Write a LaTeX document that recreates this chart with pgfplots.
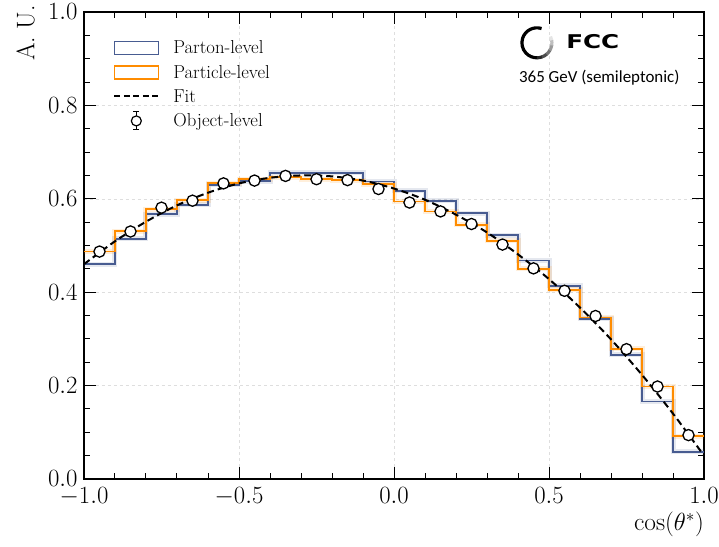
\documentclass[border=0pt]{standalone}
\usepackage{pgfplots}
\pgfplotsset{compat=1.18}
\usepackage{fontspec}
\newfontfamily\logofont{Carlito}
\newfontfamily\fccfont{DejaVu Sans}
\definecolor{partonC}{RGB}{72,92,145}
\definecolor{particleC}{RGB}{255,140,0}
\pgfplotsset{
  histleg/.style={legend image code/.code={\draw[##1,fill=white] (0bp,-6.5bp) rectangle (44bp,6.5bp);}},
  fitleg/.style={legend image code/.code={\draw[##1] (0bp,0bp) -- (44bp,0bp);}},
  objleg/.style={legend image code/.code={
     \draw[black,line width=1bp] (22bp,-9bp) -- (22bp,9bp);
     \draw[black,line width=1bp] (19bp,9bp) -- (25bp,9bp) (19bp,-9bp) -- (25bp,-9bp);
     \draw[black,fill=white,line width=1.2bp] (22bp,0bp) circle (5bp);}},
}
\begin{document}
\begin{tikzpicture}
\begin{axis}[
  name=ax,
  width=620bp, height=467bp, scale only axis,
  xmin=-1, xmax=1, ymin=0, ymax=1,
  xtick={-1,-0.5,0,0.5,1},
  ytick={0,0.2,0.4,0.6,0.8,1.0},
  minor x tick num=4, minor y tick num=3,
  tick align=inside, tick pos=both,
  major tick length=12bp, minor tick length=6bp,
  every tick/.style={black, line width=1bp},
  axis line style={line width=1.5bp},
  grid=major,
  major grid style={dash pattern=on 3bp off 3bp, black!13, line width=0.5bp},
  ticklabel style={font=\fontsize{25.5}{25.5}\selectfont},
  xticklabel style={yshift=-5bp, /pgf/number format/.cd, fixed, fixed zerofill, precision=1},
  yticklabel style={xshift=-3bp, /pgf/number format/.cd, fixed, fixed zerofill, precision=1},
  xlabel={$\cos(\theta^{*})$},
  ylabel={A.\ U.},
  label style={font=\fontsize{25.5}{25.5}\selectfont},
  xlabel style={at={([yshift=-33bp]rel axis cs:1,0)}, anchor=north east, inner sep=0pt},
  ylabel style={at={([xshift=-49bp,yshift=7bp]rel axis cs:0,1)}, anchor=south east, inner sep=0pt},
  legend cell align=left,
  legend style={at={(rel axis cs:0.047,0.943)}, anchor=north west, draw=none, fill=none,
    font=\fontsize{18.8}{19}\selectfont, row sep=5.8bp, inner sep=0pt,
    /tikz/every odd column/.append style={column sep=12bp}},
]
\addlegendimage{histleg, draw=partonC, line width=1.5bp}
\addlegendentry{Parton-level}
\addlegendimage{histleg, draw=particleC, line width=1.5bp}
\addlegendentry{Particle-level}
\addlegendimage{fitleg, black, line width=2bp, dash pattern=on 6bp off 3.5bp}
\addlegendentry{Fit}
\addlegendimage{objleg}
\addlegendentry{Object-level}

% parton-level band + line
\addplot[const plot, partonC, opacity=0.14, line width=5bp, forget plot] coordinates {
(-1.0,0.460) (-0.9,0.514) (-0.8,0.567) (-0.7,0.587) (-0.6,0.630) (-0.5,0.638) (-0.4,0.656) (-0.3,0.656) (-0.2,0.656) (-0.1,0.637)
(0.0,0.617) (0.1,0.596) (0.2,0.569) (0.3,0.522) (0.4,0.468) (0.5,0.414) (0.6,0.343) (0.7,0.266) (0.8,0.166) (0.9,0.058) (1.0,0.058)};
\addplot[const plot, particleC, opacity=0.14, line width=5bp, forget plot] coordinates {
(-1.0,0.487) (-0.9,0.531) (-0.8,0.578) (-0.7,0.597) (-0.6,0.633) (-0.5,0.642) (-0.4,0.646) (-0.3,0.642) (-0.2,0.640) (-0.1,0.631)
(0.0,0.594) (0.1,0.573) (0.2,0.544) (0.3,0.510) (0.4,0.450) (0.5,0.405) (0.6,0.346) (0.7,0.279) (0.8,0.198) (0.9,0.092) (1.0,0.092)};
\addplot[const plot, partonC, line width=1.8bp, forget plot] coordinates {
(-1.0,0.460) (-0.9,0.514) (-0.8,0.567) (-0.7,0.587) (-0.6,0.630) (-0.5,0.638) (-0.4,0.656) (-0.3,0.656) (-0.2,0.656) (-0.1,0.637)
(0.0,0.617) (0.1,0.596) (0.2,0.569) (0.3,0.522) (0.4,0.468) (0.5,0.414) (0.6,0.343) (0.7,0.266) (0.8,0.166) (0.9,0.058) (1.0,0.058)};
\addplot[const plot, particleC, line width=1.8bp, forget plot] coordinates {
(-1.0,0.487) (-0.9,0.531) (-0.8,0.578) (-0.7,0.597) (-0.6,0.633) (-0.5,0.642) (-0.4,0.646) (-0.3,0.642) (-0.2,0.640) (-0.1,0.631)
(0.0,0.594) (0.1,0.573) (0.2,0.544) (0.3,0.510) (0.4,0.450) (0.5,0.405) (0.6,0.346) (0.7,0.279) (0.8,0.198) (0.9,0.092) (1.0,0.092)};

% fit
\addplot[black, line width=2bp, dash pattern=on 7bp off 4bp, smooth, forget plot] coordinates {
(-1.0,0.460) (-0.9,0.509) (-0.8,0.551) (-0.7,0.586) (-0.6,0.613) (-0.5,0.633) (-0.4,0.645) (-0.3,0.650) (-0.2,0.648) (-0.1,0.639)
(0.0,0.622) (0.1,0.598) (0.2,0.566) (0.3,0.528) (0.4,0.481) (0.5,0.428) (0.6,0.367) (0.7,0.299) (0.8,0.223) (0.9,0.140) (1.0,0.050)};

% object-level
\addplot[black, only marks, mark=*, mark size=5.6bp, mark options={fill=white, draw=black, line width=1.3bp}, forget plot]
  coordinates {
(-0.95,0.487) (-0.85,0.530) (-0.75,0.581) (-0.65,0.596) (-0.55,0.633)
(-0.45,0.639) (-0.35,0.649) (-0.25,0.642) (-0.15,0.640) (-0.05,0.621)
(0.05,0.592) (0.15,0.573) (0.25,0.546) (0.35,0.502) (0.45,0.451)
(0.55,0.403) (0.65,0.349) (0.75,0.278) (0.85,0.198) (0.95,0.094)};

% FCC logo
\draw[line width=3.2bp, black] (axis cs:0.461,0.934) ++(72:15bp) arc[start angle=72, end angle=272, radius=15bp];
\draw[line width=3.2bp, black!85] (axis cs:0.461,0.934) ++(270:15bp) arc[start angle=270, end angle=292, radius=15bp];
\draw[line width=3.2bp, black!70] (axis cs:0.461,0.934) ++(290:15bp) arc[start angle=290, end angle=312, radius=15bp];
\draw[line width=3.2bp, black!55] (axis cs:0.461,0.934) ++(310:15bp) arc[start angle=310, end angle=332, radius=15bp];
\draw[line width=3.2bp, black!40] (axis cs:0.461,0.934) ++(330:15bp) arc[start angle=330, end angle=352, radius=15bp];
\draw[line width=3.2bp, black!25] (axis cs:0.461,0.934) ++(350:15bp) arc[start angle=350, end angle=372, radius=15bp];
\draw[line width=3.2bp, black!10] (axis cs:0.461,0.934) ++(370:15bp) arc[start angle=370, end angle=385, radius=15bp];
\node[anchor=base west, inner sep=0pt, xscale=1.3] at (axis cs:0.555,0.921) {\fccfont\bfseries\fontsize{19}{19}\selectfont FCC};
\node[anchor=base west, inner sep=0pt] at (axis cs:0.403,0.850) {\logofont\fontsize{17}{17}\selectfont 365 GeV (semileptonic)};
\end{axis}
\pgfresetboundingbox
\path[use as bounding box] ([xshift=-84bp,yshift=-68bp]ax.south west) rectangle ([xshift=15bp,yshift=12bp]ax.north east);
\end{tikzpicture}
\end{document}
